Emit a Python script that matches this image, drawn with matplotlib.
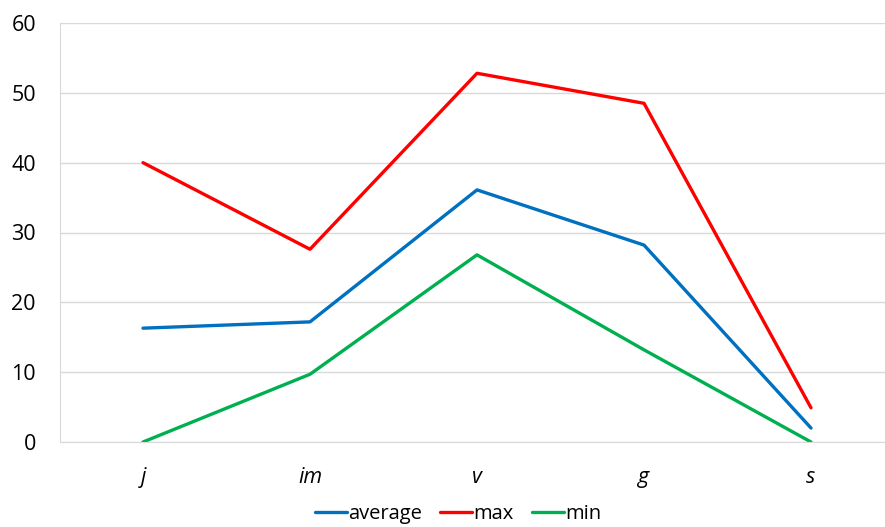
import matplotlib.pyplot as plt

categories = ['j', 'im', 'v', 'g', 's']
average = [16.3, 17.2, 36.1, 28.2, 2.0]
max_vals = [40.0, 27.6, 52.8, 48.5, 4.9]
min_vals = [0.0, 9.7, 26.8, 13.2, 0.0]

plt.rcParams['font.family'] = ['Open Sans', 'DejaVu Sans']

fig = plt.figure(figsize=(8.85, 5.27), dpi=100)
ax = fig.add_axes([59.5 / 885, 85 / 527, 835 / 885, 419 / 527])

x = range(len(categories))
ax.plot(x, average, color='#0070C0', linewidth=2.4, label='average', solid_capstyle='round')
ax.plot(x, max_vals, color='#FF0000', linewidth=2.4, label='max', solid_capstyle='round')
ax.plot(x, min_vals, color='#00B050', linewidth=2.4, label='min', solid_capstyle='round')

ax.set_xlim(-0.5, 4.5)
ax.set_ylim(0, 60)
ax.set_yticks(range(0, 61, 10))
ax.set_xticks(list(x))
ax.set_xticklabels(categories, fontstyle='italic')
ax.tick_params(axis='both', length=0, labelsize=15.5)
ax.tick_params(axis='y', pad=17)
ax.tick_params(axis='x', pad=18)
ax.grid(axis='y', color='#D9D9D9', linewidth=1)
ax.set_axisbelow(True)
for side in ['top', 'right']:
    ax.spines[side].set_visible(False)
ax.spines['left'].set_color('#D9D9D9')
ax.spines['bottom'].set_color('#D9D9D9')

fig.legend(loc='center', bbox_to_anchor=(458 / 885, 13 / 527), ncol=3, frameon=False,
           fontsize=14.5, handlelength=1.6, handletextpad=0.05, columnspacing=0.9,
           borderpad=0.2)

fig.savefig('out.png', dpi=100)
